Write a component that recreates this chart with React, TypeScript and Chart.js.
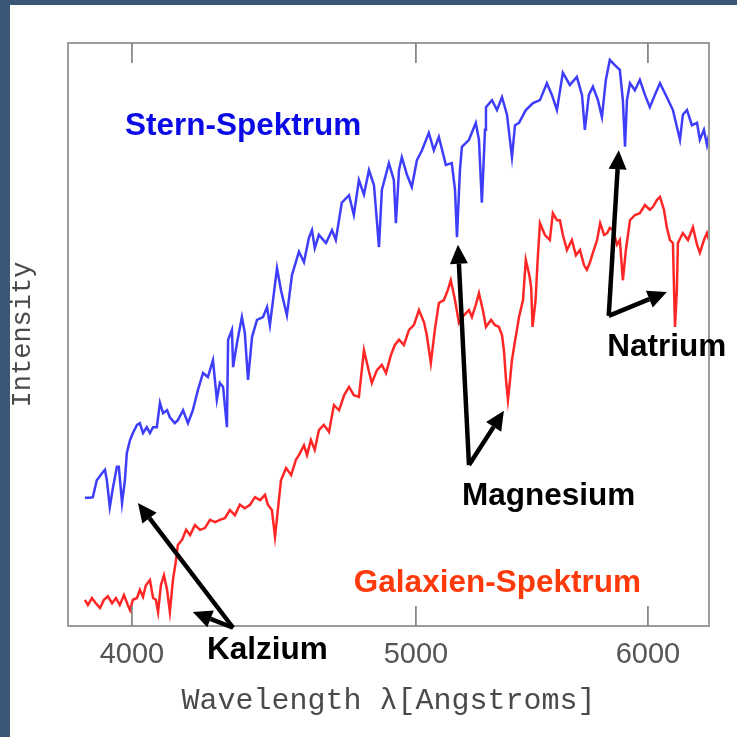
import React, { useEffect, useRef } from "react";
import { Chart, registerables } from "chart.js";

Chart.register(...registerables);

// Wavelength axis ticks (Angstrom)
const X_TICKS = [4000, 5000, 6000];
const X_MIN = 3804;
const X_MAX = 6295;
const Y_MIN = 0;
const Y_MAX = 100;

// Star spectrum (Stern-Spektrum): wavelength [A] and intensity [arb. units]
const STAR_WL = [
  3855, 3870, 3879, 3891, 3907, 3916, 3922, 3931, 3941, 3953,
  3959, 3969, 3978, 3984, 3994, 4003, 4016, 4025, 4035, 4047,
  4057, 4067, 4079, 4089, 4099, 4112, 4121, 4137, 4147, 4164,
  4180, 4196, 4213, 4230, 4246, 4263, 4276, 4286, 4297, 4310,
  4314, 4327, 4331, 4344, 4361, 4371, 4382, 4396, 4413, 4434,
  4448, 4458, 4469, 4483, 4497, 4518, 4536, 4561, 4579, 4597,
  4608, 4618, 4633, 4659, 4681, 4695, 4717, 4744, 4762, 4781,
  4800, 4819, 4838, 4857, 4868, 4895, 4914, 4922, 4934, 4945,
  4965, 4984, 5004, 5024, 5051, 5071, 5091, 5119, 5143, 5156,
  5164, 5176, 5184, 5213, 5241, 5254, 5266, 5279, 5283, 5308,
  5329, 5350, 5371, 5392, 5405, 5422, 5451, 5482, 5512, 5542,
  5564, 5586, 5612, 5643, 5674, 5697, 5710, 5728, 5746, 5769,
  5787, 5805, 5823, 5846, 5869, 5883, 5893, 5902, 5916, 5939,
  5962, 5986, 6009, 6033, 6057, 6090, 6119, 6153, 6167, 6187,
  6211, 6236, 6250, 6270, 6285, 6295,
];
const STAR_I = [
  22.0, 22.0, 22.1, 25.0, 26.2, 26.8, 25.0, 20.4, 23.8, 27.3,
  27.3, 21.1, 25.0, 29.7, 31.9, 33.1, 34.5, 34.8, 33.1, 34.1,
  33.1, 34.1, 34.1, 38.3, 36.5, 37.0, 35.8, 34.8, 35.3, 37.0,
  34.8, 37.0, 40.5, 43.4, 42.7, 45.6, 38.8, 41.7, 41.0, 34.1,
  49.1, 50.8, 44.4, 48.5, 53.0, 50.3, 42.2, 49.6, 52.5, 53.0,
  54.7, 51.6, 55.9, 61.4, 57.6, 53.3, 60.2, 64.2, 62.4, 66.6,
  67.9, 64.8, 67.1, 65.7, 67.9, 66.2, 72.6, 73.9, 70.5, 76.5,
  74.0, 78.2, 75.6, 65.0, 74.8, 79.4, 76.5, 69.1, 78.2, 80.4,
  77.4, 75.3, 79.9, 81.6, 84.6, 81.6, 83.9, 79.1, 79.4, 74.8,
  66.7, 78.2, 82.2, 83.4, 86.3, 83.4, 72.6, 85.1, 89.0, 90.2,
  88.5, 90.7, 87.7, 80.4, 85.9, 86.3, 88.5, 89.7, 90.2, 93.1,
  91.1, 88.5, 94.9, 92.8, 94.2, 91.1, 85.1, 91.1, 92.5, 90.2,
  87.3, 93.7, 97.1, 96.2, 95.4, 90.2, 82.2, 90.2, 93.1, 91.9,
  93.7, 91.1, 89.0, 91.1, 93.1, 90.7, 88.5, 83.4, 87.7, 88.5,
  85.9, 86.3, 83.4, 85.1, 82.5, 84.2,
];

// Galaxy spectrum (Galaxien-Spektrum)
const GAL_WL = [
  3855, 3864, 3876, 3888, 3901, 3913, 3925, 3938, 3950, 3962,
  3975, 3987, 3994, 4003, 4016, 4025, 4035, 4044, 4057, 4067,
  4076, 4083, 4092, 4102, 4112, 4121, 4131, 4141, 4147, 4161,
  4174, 4187, 4203, 4220, 4236, 4253, 4270, 4286, 4303, 4320,
  4337, 4354, 4371, 4389, 4406, 4424, 4441, 4451, 4465, 4476,
  4486, 4497, 4515, 4533, 4550, 4561, 4579, 4590, 4604, 4618,
  4633, 4651, 4670, 4688, 4707, 4726, 4744, 4762, 4781, 4800,
  4819, 4830, 4849, 4868, 4884, 4903, 4918, 4934, 4953, 4973,
  4992, 5012, 5032, 5043, 5059, 5075, 5091, 5111, 5127, 5139,
  5156, 5172, 5192, 5213, 5225, 5241, 5254, 5270, 5283, 5304,
  5321, 5337, 5350, 5358, 5367, 5375, 5384, 5392, 5401, 5413,
  5422, 5439, 5451, 5466, 5474, 5480, 5493, 5502, 5512, 5533,
  5555, 5568, 5586, 5599, 5612, 5630, 5652, 5670, 5688, 5706,
  5719, 5733, 5746, 5765, 5779, 5797, 5811, 5823, 5838, 5856,
  5869, 5883, 5897, 5916, 5939, 5962, 5986, 6009, 6024, 6043,
  6057, 6076, 6090, 6105, 6119, 6129, 6138, 6143, 6167, 6192,
  6216, 6236, 6250, 6270, 6285, 6295,
];
const GAL_I = [
  4.5, 3.6, 4.8, 3.9, 3.1, 4.5, 5.1, 3.9, 4.8, 3.6,
  5.3, 3.6, 2.7, 4.5, 4.8, 6.2, 5.0, 7.0, 7.9, 4.8,
  4.5, 2.4, 7.0, 8.7, 6.2, 2.4, 7.9, 11.3, 13.9, 14.8,
  16.5, 15.6, 17.3, 16.5, 16.8, 18.2, 17.8, 18.2, 18.5, 19.9,
  19.0, 20.8, 20.2, 20.8, 22.1, 21.6, 22.5, 20.8, 19.9, 15.3,
  19.9, 25.0, 27.1, 25.9, 28.5, 29.3, 31.0, 29.3, 31.9, 30.2,
  33.6, 34.5, 33.3, 37.9, 37.0, 39.6, 41.0, 39.6, 39.3, 47.3,
  43.6, 41.7, 43.9, 44.8, 43.4, 46.5, 48.2, 49.1, 48.2, 50.8,
  51.6, 54.2, 52.1, 49.9, 45.1, 50.8, 55.4, 55.9, 57.6, 59.3,
  55.9, 52.0, 53.3, 54.2, 53.0, 55.1, 57.1, 54.2, 51.3, 52.5,
  51.6, 51.3, 49.9, 47.3, 42.2, 38.8, 42.2, 45.6, 47.9, 50.8,
  53.0, 55.9, 62.8, 60.2, 58.1, 51.3, 55.9, 62.8, 69.1, 67.1,
  66.2, 70.8, 69.6, 69.6, 67.1, 64.5, 66.2, 63.6, 64.5, 61.9,
  61.1, 62.4, 64.0, 66.2, 69.1, 67.1, 67.4, 68.3, 67.9, 65.4,
  66.2, 59.3, 64.5, 69.6, 70.5, 70.8, 72.2, 71.4, 71.9, 73.1,
  73.6, 71.4, 68.3, 66.2, 65.7, 51.3, 57.6, 65.7, 67.4, 66.2,
  68.4, 65.4, 64.0, 66.2, 67.4, 66.2,
];

// Annotation texts, anchored in data coordinates (wavelength, intensity)
const NOTES = [
  { text: "Stern-Spektrum", wl: 3978, v: 84.2, color: "#0a0ae6" },
  { text: "Galaxien-Spektrum", wl: 4762, v: 5.8, color: "#ff3a0a" },
  { text: "Kalzium", wl: 4243, v: -5.7, color: "#000000" },
  { text: "Magnesium", wl: 5184, v: 20.8, color: "#000000" },
  { text: "Natrium", wl: 5811, v: 46.3, color: "#000000" },
];
const ARROWS = [
  { from: [4331, -0.3], to: [4019, 21.1] },
  { from: [4331, -0.3], to: [4196, 2.4] },
  { from: [5213, 27.6], to: [5168, 65.4] },
  { from: [5213, 27.6], to: [5358, 36.9] },
  { from: [5818, 53.2], to: [5864, 81.6] },
  { from: [5818, 53.2], to: [6090, 57.3] },
];

function drawArrow(ctx: CanvasRenderingContext2D, x0: number, y0: number, x1: number, y1: number) {
  const ang = Math.atan2(y1 - y0, x1 - x0);
  const L = 19;
  const W = 9;
  const c = Math.cos(ang);
  const s = Math.sin(ang);
  const bx = x1 - L * c;
  const by = y1 - L * s;
  ctx.lineWidth = 4.5;
  ctx.lineCap = "butt";
  ctx.beginPath();
  ctx.moveTo(x0, y0);
  ctx.lineTo(bx, by);
  ctx.stroke();
  ctx.beginPath();
  ctx.moveTo(x1, y1);
  ctx.lineTo(bx + W * s, by - W * c);
  ctx.lineTo(bx - W * s, by + W * c);
  ctx.closePath();
  ctx.fill();
}

const decorPlugin = {
  id: "decor",
  afterDraw(chart: any) {
    const { ctx, chartArea: a, scales } = chart;
    const x = scales.x;
    const y = scales.y;
    ctx.save();
    // frame
    ctx.strokeStyle = "#9c9c9c";
    ctx.lineWidth = 2;
    ctx.strokeRect(a.left, a.top, a.right - a.left, a.bottom - a.top);
    // inward ticks
    ctx.strokeStyle = "#7a7a7a";
    ctx.lineWidth = 1.6;
    for (const t of X_TICKS) {
      const px = x.getPixelForValue(t);
      ctx.beginPath();
      ctx.moveTo(px, a.top);
      ctx.lineTo(px, a.top + 20);
      ctx.moveTo(px, a.bottom);
      ctx.lineTo(px, a.bottom - 20);
      ctx.stroke();
    }
    // arrows
    ctx.strokeStyle = "#000";
    ctx.fillStyle = "#000";
    for (const ar of ARROWS) {
      drawArrow(
        ctx,
        x.getPixelForValue(ar.from[0]),
        y.getPixelForValue(ar.from[1]),
        x.getPixelForValue(ar.to[0]),
        y.getPixelForValue(ar.to[1])
      );
    }
    // labels
    ctx.font = 'bold 31.5px "Liberation Sans", Arial, sans-serif';
    ctx.textAlign = "left";
    ctx.textBaseline = "alphabetic";
    for (const n of NOTES) {
      ctx.fillStyle = n.color;
      ctx.fillText(n.text, x.getPixelForValue(n.wl), y.getPixelForValue(n.v));
    }
    ctx.restore();
  },
};

export default function App() {
  const ref = useRef<HTMLCanvasElement | null>(null);

  useEffect(() => {
    const canvas = ref.current;
    if (!canvas) return;
    const star = STAR_WL.map((w, i) => ({ x: w, y: STAR_I[i] }));
    const gal = GAL_WL.map((w, i) => ({ x: w, y: GAL_I[i] }));
    const chart = new Chart(canvas, {
      type: "line",
      data: {
        datasets: [
          {
            label: "Stern-Spektrum",
            data: star,
            borderColor: "rgba(40,40,250,0.9)",
            borderWidth: 2.5,
            pointRadius: 0,
            tension: 0,
          },
          {
            label: "Galaxien-Spektrum",
            data: gal,
            borderColor: "rgba(255,20,20,0.92)",
            borderWidth: 2.5,
            pointRadius: 0,
            tension: 0,
          },
        ],
      },
      options: {
        responsive: false,
        devicePixelRatio: 1,
        animation: false,
        layout: { padding: { top: 43, right: 28, left: 0, bottom: 0 } },
        plugins: {
          legend: { display: false },
          tooltip: { enabled: false },
        },
        scales: {
          x: {
            type: "logarithmic",
            position: "bottom",
            min: X_MIN,
            max: X_MAX,
            afterBuildTicks: (scale: any) => {
              scale.ticks = X_TICKS.map((v) => ({ value: v }));
            },
            afterFit: (scale: any) => {
              scale.height = 111;
            },
            grid: { display: false, drawTicks: false },
            border: { display: false },
            ticks: {
              autoSkip: false,
              maxRotation: 0,
              padding: 12,
              color: "#555555",
              font: { family: '"Liberation Sans", Arial, sans-serif', size: 29 },
              callback: (v: any) => String(v),
            },
            title: {
              display: true,
              text: "Wavelength λ[Angstroms]",
              color: "#4a4a4a",
              font: { family: '"Liberation Mono", "Courier New", monospace', size: 30 },
              padding: { top: 0, bottom: 18 },
            },
          },
          y: {
            type: "linear",
            min: Y_MIN,
            max: Y_MAX,
            afterFit: (scale: any) => {
              scale.width = 68;
            },
            grid: { display: false, drawTicks: false },
            border: { display: false },
            ticks: { display: false },
            title: {
              display: true,
              text: "Intensity",
              color: "#4a4a4a",
              font: { family: '"Liberation Mono", "Courier New", monospace', size: 27 },
              padding: { top: 7, bottom: 0 },
            },
          },
        },
      },
      plugins: [decorPlugin],
    });
    return () => chart.destroy();
  }, []);

  return (
    <div style={{ position: "absolute", left: 0, top: 0, width: 737, height: 737, background: "#ffffff", overflow: "hidden" }}>
      <canvas ref={ref} width={737} height={737} style={{ position: "absolute", left: 0, top: 0 }} />
      <div style={{ position: "absolute", left: 0, top: 0, width: 10, height: 737, background: "#3b5777" }} />
      <div style={{ position: "absolute", left: 0, top: 0, width: 737, height: 5, background: "#3b5777" }} />
    </div>
  );
}
